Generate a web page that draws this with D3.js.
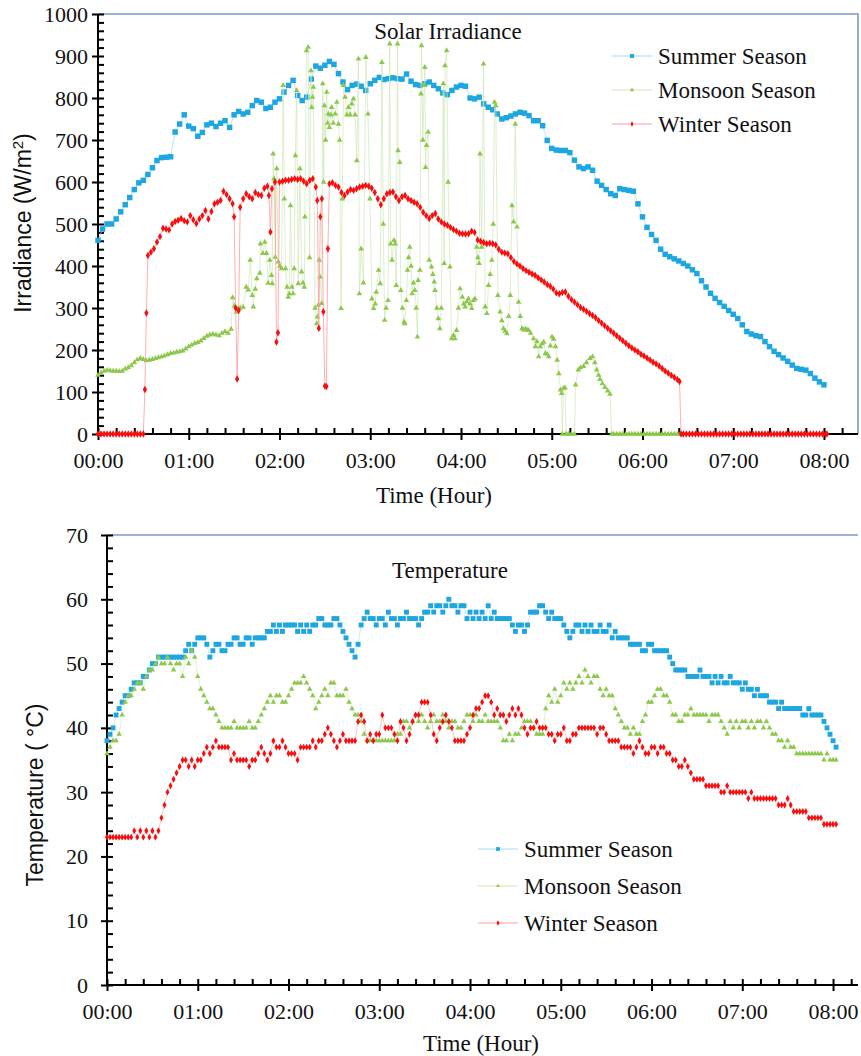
<!DOCTYPE html>
<html><head><meta charset="utf-8">
<script src="https://cdn.jsdelivr.net/npm/d3@7"></script>
<style>body{margin:0;background:#fff}</style>
</head><body>
<svg id="c" width="861" height="1056"></svg>
<script>
// ---------------- DATA ----------------
const seriesNames = ["Summer Season", "Monsoon Season", "Winter Season"];
const timeTickLabels = ["00:00","01:00","02:00","03:00","04:00","05:00","06:00","07:00","08:00"];
const irrTicks = [0,100,200,300,400,500,600,700,800,900,1000];
const tempTicks = [0,10,20,30,40,50,60,70];

// Summer irradiance (W/m2), one reading every 3 minutes from 00:00
const summerIrrStep = 3;
const summerIrr = [
461,488,500,500,512,529,546,563,582,598,604,618,634,651,658,659,660,719,738,760,
733,727,709,718,736,740,732,740,746,730,760,768,762,766,782,794,790,775,778,790,
798,814,830,842,806,794,802,845,876,871,878,887,880,858,838,820,830,833,828,818,
834,842,849,844,846,848,846,845,857,840,832,830,834,838,830,822,812,808,818,826,
830,828,800,798,802,786,778,772,762,750,753,757,762,766,764,758,746,746,734,699,
680,676,675,675,670,652,636,632,636,628,602,592,582,572,568,584,582,580,578,548,
517,492,475,461,440,428,422,417,412,406,400,391,382,365,350,335,323,313,304,294,
285,275,260,244,238,234,232,220,208,197,189,181,173,164,156,154,152,144,133,124,117
];

// Monsoon irradiance [minute, W/m2]
const monsoonIrr = [
[0,140],[2,145],[4,150],[6,152],[8,151],[10,150],[12,150],[14,149],[16,150],[18,155],[20,158],[22,163],[24,170],[26,177],[28,180],[30,178],[32,175],[34,176],[36,178],[38,180],[40,182],[42,184],[44,186],[46,189],[48,192],[50,193],[52,195],[54,196],[56,198],[58,203],[60,208],[62,212],[64,216],[66,218],[68,222],[70,228],[72,233],[74,236],[76,238],[78,236],[80,234],[82,240],[84,244],[86,240],[88,250],
[89,325],[90.3,305],[91.5,290],[92.5,298],[94,300],[96,302],[98,350],[99.4,343],[100.7,414],[102,330],[102.7,303],[104,345],[105,370],[107,383],[107.4,453],[109,430],[110.3,457],[111.4,430],[112.5,359],[113.6,414],[114.7,378],[115.2,358],
[115.8,667],[116.4,608],[117.2,421],[118.2,632],[119.2,410],[120.2,400],[121.4,394],[122.4,830],[123.2,560],[124,394],[125,350],[125.8,326],[126.5,334],[127.3,544],[128.2,350],[129,334],[129.7,394],[130.5,663],[131.3,818],[132.4,358],[133.5,632],[134.6,386],[135.5,360],[136.4,350],[136.8,517],[137.9,913],[139,921],[139.9,420],[140.8,865],[141.3,778],[141.8,802],[142.4,826],
[143.5,300],[144.6,263],[145.1,279],[145.7,307],[146.3,414],[146.8,374],[147.9,311],[148.6,834],[149.2,600],[149.7,782],[150.5,700],[151.2,814],[151.8,740],[152.3,762],[153,730],[154,760],[154.5,778],[155.5,740],[156.8,762],[157.9,790],[159,738],[159.8,700],[160.7,299],
[161.5,560],[162.3,830],[163.4,802],[164.5,760],[165.6,778],[166.7,760],[167.8,786],[168.9,798],[170,760],[171.1,651],[172.2,893],[172.8,334],[174,441],[175.5,360],[177.1,897],[178.5,762],[179.8,560],[181.1,322],[182.2,299],[183.3,310],[184,338],[185.5,390],[186.6,358],[187.7,885],[188.6,500],[189.5,271],[190.5,300],[191.8,318],
[192.9,929],[193.5,453],[194.4,414],[195.7,461],[196.6,453],[197.2,354],[198,929],[198.4,675],[199.5,647],[200.2,342],[201.3,300],[202.4,267],[202.8,263],[203.9,318],[204.6,390],[205.3,420],[206.1,445],[207,400],[207.7,334],[208.6,360],[209.5,342],[210.4,300],[211.2,231],[211.7,366],[212.8,390],[213.5,810],[213.9,925],[214.8,700],[215.7,830],[216.1,873],[216.6,635],[217.2,687],[218.3,719],[219,414],[220.5,398],[221.4,380],[222.3,362],[222.8,342],[224,300],[225,275],[226,251],[227,300],[228.3,834],[228.9,406],[229.4,877],[230.5,913],[231.5,600],[232.7,398],[233.8,227],[235,235],[236,227],[237.1,247],[238.3,300],[239.4,346],
[240.9,326],[241.8,310],[242.7,303],[243.8,315],[244.9,322],[246,310],[247.1,299],[248.2,318],[249.3,322],[250.4,445],[251.2,420],[252,406],[252.6,667],[253.7,445],[254.9,881],[256,303],[257.1,287],[258.2,354],[259.3,380],[260.4,414],[261.3,500],[262.2,790],[263,782],[264.4,330],[265.9,291],[267,270],[268.1,251],[269.2,245],[270.4,239],[271.5,280],[272.6,330],[273.7,544],[274.8,505],[275.9,738],[277,493],[278.1,314],[279.2,280],[280.3,251],[281.5,248],[282.6,250],[283.7,248],[284.7,247],
[286,240],[288,227],[289.2,208],[290.3,220],[291.4,184],[292.5,208],[293.6,215],[294.7,219],[295.8,192],[297,190],[298,184],[299.1,210],[300.2,231],[301.3,226],[302.5,208],[303.6,176],[304.7,144],[305.8,105],[306.5,97],[307,0],[307.8,109],[308.8,110],[309.5,0],[311,0],[313,0],[315,0],[315.8,117],[317.6,153],[319,158],[321,161],[323,170],[325.3,180],[327,184],[328.5,170],[329.7,153],[331,140],[331.9,130],[333.5,120],[335.2,111],[337,103],[338.5,95],[339.6,0],
[341,0],[343,0],[345,0],[347,0],[349,0],[351,0],[353,0],[355,0],[357,0],[359,0],[361,0],[363,0],[365,0],[367,0],[369,0],[371,0],[373,0],[375,0],[377,0],[379,0],[381,0],[383,0],[385,0]
];

// Winter irradiance [minute, W/m2]
const winterIrr = [
[0,0],[2,0],[4,0],[6,0],[8,0],[10,0],[12,0],[14,0],[16,0],[18,0],[20,0],[22,0],[24,0],[26,0],[28,0],[30,0],
[31,106],[32,288],[33,425],[35,433],[37,441],[39,457],[41,470],[43,490],[45,488],[47,486],[49,500],[51,506],[53,509],[55,513],[57,508],[59,505],[61,520],[63,510],[65,501],[67,512],[69,520],[71,532],[73,512],[75,530],[77,548],[79,552],[81,556],[83,578],[85,570],[87,560],[89,548],
[90,517],[91,300],[92,131],[93,294],[94,540],[96,560],[98,572],[100,565],[102,560],[104,575],[106,570],[108,568],[110,585],[112,590],[113,568],[114,481],[115,584],[117,600],[118,219],[119,241],[120,600],[122,602],[124,604],[126,604],[128,606],[130,608],[132,606],[134,608],[136,602],[138,596],[140,604],[142,608],[144,588],[145,556],[146,252],[147,517],[148,560],[149,291],[150,114],[151,113],[152,441],[153,596],
[155,598],[157,592],[159,588],[161,575],[163,568],[165,576],[167,582],[169,580],[171,584],[173,588],[175,590],[177,592],[179,590],[181,585],[183,575],[185,560],[187,546],[189,560],[191,572],[193,575],[195,576],[197,565],[199,556],[201,565],[203,568],[205,560],[207,556],[209,552],[211,548],[213,540],[215,528],[217,520],[219,513],[221,520],[223,525],[225,512],[227,505],[229,500],[231,497],[233,492],[235,487],[237,483],[239,478],[241,477],[243,476],[245,477],[247,483],[249,480],
[251,462],[253,459],[255,456],[257,453],[259,454],[261,453],[263,450],[265,440],[267,433],[269,431],[271,429],[273,420],[275,411],[277,405],[279,400],[281,394],[283,389],[285,385],[287,381],[289,378],[291,372],[293,367],[295,362],[297,356],[299,352],[301,345],[303,336],[305,334],[307,337],[309,338],[311,328],[313,320],[315,314],[317,308],[319,301],[321,297],[323,292],[325,287],[327,282],[329,277],[331,270],[333,264],[335,258],[337,252],[339,246],[341,240],[343,234],[345,228],[347,222],[349,216],[351,210],[353,205],[355,200],[357,196],[359,190],[361,186],[363,181],[365,176],[367,171],[369,167],[371,162],[373,156],[375,150],[377,145],[379,140],[381,135],[383,130],[384.5,125],
[385.5,0],[387,0],[389,0],[391,0],[393,0],[395,0],[397,0],[399,0],[401,0],[403,0],[405,0],[407,0],[409,0],[411,0],[413,0],[415,0],[417,0],[419,0],[421,0],[423,0],[425,0],[427,0],[429,0],[431,0],[433,0],[435,0],[437,0],[439,0],[441,0],[443,0],[445,0],[447,0],[449,0],[451,0],[453,0],[455,0],[457,0],[459,0],[461,0],[463,0],[465,0],[467,0],[469,0],[471,0],[473,0],[475,0],[477,0],[479,0],[481,0],[482,0]
];

// Temperatures (deg C), one reading every 2 minutes from 00:00
const tempStep = 2;
const summerTemp = [
38,39,40,42,43,44,45,45,46,47, 47,47,48,48,49,50,50,51,51,51, 51,51,51,51,51,51,52,53,52,53,
54,54,54,53,51,52,53,53,52,52, 53,53,54,54,53,53,54,54,53,54, 54,54,54,55,55,56,55,56,55,56,
56,56,56,55,56,55,56,55,56,56, 57,57,56,56,56,57,57,56,55,54, 53,52,51,53,56,57,58,57,57,56,
57,57,56,58,57,57,56,57,57,58, 57,57,57,56,57,58,58,59,58,59, 59,58,59,60,59,59,58,59,59,57,
58,57,58,57,58,57,59,57,58,57, 57,57,57,57,56,55,56,56,55,56, 58,58,58,59,59,58,57,58,57,57,
57,56,55,54,55,56,56,55,56,55, 56,55,55,56,55,55,56,54,55,54, 54,54,54,53,53,53,53,52,52,53,
53,52,52,52,52,52,51,50,49,49, 49,49,48,48,48,48,49,48,48,48, 47,48,47,48,47,47,48,47,47,47,
46,47,46,46,45,46,45,45,45,44, 44,44,43,44,43,43,43,43,43,43, 42,42,43,42,42,42,42,41,40,39,
38,37
];
const monsoonTemp = [
36,37,38,38,39,42,44,45,45,46, 47,47,46,48,49,49,50,51,50,50, 51,50,49,50,50,48,51,50,52,51,
48,46,45,44,43,43,42,41,40,40, 40,40,41,40,40,40,40,41,40,40, 41,42,43,44,45,44,45,45,44,44,
45,46,47,47,47,48,47,46,45,43, 44,45,46,45,47,47,45,45,45,46, 44,43,42,42,41,39,38,38,38,38,
38,38,38,38,38,38,39,39,41,41, 40,41,42,41,42,41,40,41,42,41, 41,42,41,40,41,41,40,40,41,42,
42,41,42,41,41,42,41,41,41,41, 40,38,38,39,38,39,39,40,41,41, 41,40,39,39,39,43,45,44,46,44,
45,47,46,47,46,47,48,47,49,48, 47,48,48,46,45,46,45,45,43,42, 41,40,40,39,40,39,39,41,42,44,
44,45,46,46,45,45,44,42,42,41, 41,42,42,43,42,42,42,42,42,41, 42,42,42,41,40,39,41,40,41,40,
41,41,40,41,40,41,41,40,41,40, 39,39,38,38,37,38,37,37,36,36, 36,36,36,36,36,36,36,35,36,35,
35,35
];
const winterTemp = [
23,23,23,23,23,23,23,23,23,24, 23,24,23,24,23,24,23,24,26,28, 30,31,32,33,34,35,35,34,35,34,
35,35,36,37,36,37,38,37,37,37, 37,35,36,35,35,35,35,34,35,35, 36,37,36,35,36,38,37,37,38,37,
36,36,36,35,37,37,37,37,38,37, 38,38,39,40,39,38,37,38,39,38, 38,38,38,41,42,41,38,39,38,39,
39,42,40,40,40,39,38,41,40,38, 39,41,42,42,44,44,44,42,39,38, 40,41,42,41,40,38,38,38,38,39,
40,42,43,43,44,45,45,44,42,43, 42,42,41,42,43,42,43,42,40,39, 40,40,41,40,40,40,39,39,38,39,
39,40,38,38,39,39,40,40,40,40, 40,40,39,40,40,39,38,38,38,38, 37,37,37,37,36,37,38,37,36,36,
37,37,36,37,37,36,36,35,35,34, 34,35,34,33,32,32,32,32,31,31, 31,31,31,30,30,31,30,30,30,30,
30,30,29,30,29,29,29,29,29,29, 29,29,28,28,28,29,28,27,27,27, 27,27,26,26,26,26,26,25,25,25,
25,25
];

// ---------------- STYLE ----------------
const colors = {
  summer: "#1ea6e0", summerLine: "#a6d9f2",
  monsoon: "#8cc84b", monsoonLine: "#cfe6b6",
  winter: "#f50f0f", winterLine: "#ff9c9c"
};
const frameColor = "#7b98cc";
const serif = "'Liberation Serif', 'Times New Roman', serif";
const sans = "'Liberation Sans', Arial, sans-serif";

const svg = d3.select("#c");

function fmtHour(m) { return timeTickLabels[Math.round(m / 60)]; }

function drawPanel(o) {
  const x = d3.scaleLinear().domain([0, o.xMax]).range([o.left, o.right]);
  const y = d3.scaleLinear().domain([0, o.yMax]).range([o.bottom, o.top]);
  const g = svg.append("g");

  // frame (top & right)
  g.append("path")
    .attr("d", `M${o.left},${o.top}H${o.right}` + (o.rightFrame ? `V${o.bottom}` : ""))
    .attr("fill", "none").attr("stroke", frameColor).attr("stroke-width", 1.6);

  const hourVals = timeTickLabels.map((d, i) => i * 60);
  const minorX = d3.range(0, o.xMax, 12);

  // x axis: majors crossing with labels, all ticks inside
  const xb = g.append("g").attr("transform", `translate(0,${o.bottom})`)
    .call(d3.axisBottom(x).tickValues(hourVals).tickFormat(fmtHour).tickSize(6).tickSizeOuter(0).tickPadding(o.xPad));
  const xt = g.append("g").attr("transform", `translate(0,${o.bottom})`)
    .call(d3.axisTop(x).tickValues(minorX).tickFormat("").tickSize(6).tickSizeOuter(0));
  // y axis
  const yl = g.append("g").attr("transform", `translate(${o.left},0)`)
    .call(d3.axisLeft(y).tickValues(o.yTicks).tickFormat(d3.format("d")).tickSize(6).tickSizeOuter(0).tickPadding(o.yPad));
  const yr = g.append("g").attr("transform", `translate(${o.left},0)`)
    .call(d3.axisRight(y).tickValues(o.yMinor).tickFormat("").tickSize(6).tickSizeOuter(0));

  [xb, xt, yl, yr].forEach(a => {
    a.attr("font-family", serif);
    a.selectAll("path").attr("stroke", "#000").attr("stroke-width", 2);
    a.selectAll("line").attr("stroke", "#000").attr("stroke-width", 2);
    a.selectAll("text").attr("font-family", serif).attr("font-size", o.tickFont).attr("fill", "#111");
  });
  xb.select(".domain").attr("d", `M${o.left},0H${o.right}`);
  yl.select(".domain").attr("d", `M0,${o.bottom}V${o.top}`);
  xt.select(".domain").remove(); yr.select(".domain").remove();

  // series
  o.series.forEach(s => {
    const line = d3.line().x(d => x(d[0])).y(d => y(d[1]));
    g.append("path").datum(s.data).attr("d", line)
      .attr("fill", "none").attr("stroke", s.lineColor).attr("stroke-width", s.lineWidth);
    const sym = d3.symbol().type(s.symbol).size(s.size);
    g.append("g").selectAll("path").data(s.data).join("path")
      .attr("transform", d => `translate(${x(d[0])},${y(d[1])})`)
      .attr("d", sym).attr("fill", s.color);
  });

  // title
  g.append("text").attr("x", o.titleX).attr("y", o.titleY).attr("text-anchor", "middle")
    .attr("font-family", serif).attr("font-size", 23).attr("fill", "#111").text(o.title);
  // x label
  g.append("text").attr("x", o.xLabelX).attr("y", o.xLabelY).attr("text-anchor", "middle")
    .attr("font-family", serif).attr("font-size", 23).attr("fill", "#111").text("Time (Hour)");
  // y label
  const yt = g.append("text")
    .attr("transform", `translate(${o.yLabelX},${o.yLabelY}) rotate(-90)`)
    .attr("text-anchor", "middle").attr("font-family", sans).attr("font-size", 23).attr("fill", "#111");
  o.yLabel(yt);

  // legend
  o.series.forEach((s, i) => {
    const ly = o.legY + i * o.legDY;
    g.append("line").attr("x1", o.legX0).attr("x2", o.legX0 + 40).attr("y1", ly).attr("y2", ly)
      .attr("stroke", s.lineColor).attr("stroke-width", 1);
    g.append("path").attr("transform", `translate(${o.legX0 + 20},${ly})`)
      .attr("d", d3.symbol().type(s.symbol).size(s.legSize)()).attr("fill", s.color);
    g.append("text").attr("x", o.legX0 + 46).attr("y", ly + 8)
      .attr("font-family", serif).attr("font-size", 23).attr("fill", "#111").text(seriesNames[i]);
  });
}

const summerIrrPts = summerIrr.map((v, i) => [i * summerIrrStep, v]);
const toPts = arr => arr.map((v, i) => [i * tempStep, v]);

drawPanel({
  left: 98, right: 858, top: 14, bottom: 434, xMax: 502.5, yMax: 1000,
  rightFrame: true, yTicks: irrTicks, yMinor: d3.range(0, 1001, 20),
  xPad: 12, yPad: 4, tickFont: 22,
  title: "Solar Irradiance", titleX: 448, titleY: 39,
  xLabelX: 434, xLabelY: 503, yLabelX: 31, yLabelY: 223,
  yLabel: t => { t.append("tspan").text("Irradiance (W/m");
                 t.append("tspan").attr("baseline-shift", "super").attr("font-size", 15).text("2");
                 t.append("tspan").text(")"); },
  legX0: 612, legY: 56, legDY: 34,
  series: [
    { data: summerIrrPts, color: colors.summer, lineColor: colors.summerLine, lineWidth: 0.8, symbol: d3.symbolSquare, size: 30, legSize: 16 },
    { data: monsoonIrr, color: colors.monsoon, lineColor: colors.monsoonLine, lineWidth: 0.7, symbol: d3.symbolTriangle, size: 14, legSize: 8 },
    { data: winterIrr, color: colors.winter, lineColor: colors.winterLine, lineWidth: 0.8, symbol: d3.symbolDiamond, size: 16, legSize: 8 }
  ]
});

drawPanel({
  left: 107, right: 858, top: 535, bottom: 985, xMax: 496.5, yMax: 70,
  rightFrame: false, yTicks: tempTicks, yMinor: d3.range(0, 71, 2),
  xPad: 12, yPad: 13, tickFont: 22,
  title: "Temperature", titleX: 450, titleY: 578,
  xLabelX: 481, xLabelY: 1051, yLabelX: 43, yLabelY: 795,
  yLabel: t => { t.text("Temperature ( °C)"); },
  legX0: 478, legY: 849, legDY: 37,
  series: [
    { data: toPts(summerTemp), color: colors.summer, lineColor: colors.summerLine, lineWidth: 0.6, symbol: d3.symbolSquare, size: 24, legSize: 14 },
    { data: toPts(monsoonTemp), color: colors.monsoon, lineColor: colors.monsoonLine, lineWidth: 0.6, symbol: d3.symbolTriangle, size: 13, legSize: 6 },
    { data: toPts(winterTemp), color: colors.winter, lineColor: colors.winterLine, lineWidth: 0.6, symbol: d3.symbolDiamond, size: 14, legSize: 8 }
  ]
});
</script>
</body></html>
